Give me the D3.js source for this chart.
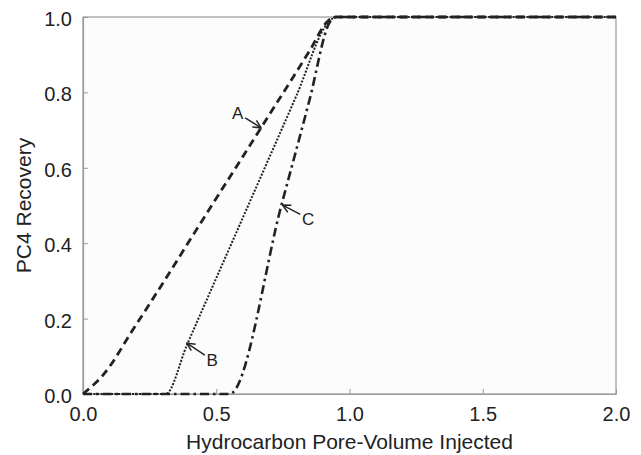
<!DOCTYPE html>
<html>
<head>
<meta charset="utf-8">
<script src="https://cdn.jsdelivr.net/npm/d3@7"></script>
<style>
    body { margin: 0; background: #fff; }
    text { font-family: "Liberation Sans", Arial, sans-serif; fill: #222; }
</style>
</head>
<body>
<div id="chart"></div>
<script>
const WIDTH = 641;
const HEIGHT = 455;
const MARGIN = { top: 17, right: 25, bottom: 61, left: 83 };

// curve A (dashed)
const curveA = [
    [0.0, 0.0], [0.026, 0.016], [0.064, 0.041], [0.1, 0.073], [0.176, 0.158],
    [0.259, 0.249], [0.45, 0.463], [0.668, 0.706], [0.85, 0.91],
    [0.92, 0.99], [0.95, 1.0], [2.0, 1.0]
];
// curve B (dotted)
const curveB = [
    [0.0, 0.0], [0.31, 0.0], [0.39, 0.13], [0.6, 0.468], [0.8, 0.79],
    [0.92, 0.985], [0.95, 1.0], [2.0, 1.0]
];
// curve C (dash-dot)
const curveC = [
    [0.0, 0.0], [0.55, 0.0], [0.746, 0.505], [0.85, 0.78],
    [0.925, 0.985], [0.95, 1.0], [2.0, 1.0]
];

const xTicks = [0, 0.5, 1.0, 1.5, 2.0];
const yTicks = [0, 0.2, 0.4, 0.6, 0.8, 1.0];

// label position, arrow tip (data units)
const labels = [
    { name: 'A', at: [0.58, 0.745], tip: [0.668, 0.706] },
    { name: 'B', at: [0.485, 0.09], tip: [0.39, 0.135] },
    { name: 'C', at: [0.845, 0.465], tip: [0.749, 0.501] }
];

const svg = d3.select('#chart').append('svg')
    .attr('width', WIDTH)
    .attr('height', HEIGHT);

const x = d3.scaleLinear().domain([0, 2]).range([MARGIN.left, WIDTH - MARGIN.right]);
const y = d3.scaleLinear().domain([0, 1]).range([HEIGHT - MARGIN.bottom, MARGIN.top]);

svg.append('rect')
    .attr('x', x(0))
    .attr('y', y(1))
    .attr('width', x(2) - x(0))
    .attr('height', y(0) - y(1))
    .attr('fill', '#fcfcfc')
    .attr('stroke', '#999')
    .attr('stroke-width', 1.2);

const xAxis = svg.append('g')
    .attr('transform', `translate(0, ${y(0)})`)
    .call(d3.axisBottom(x).tickValues(xTicks).tickSizeInner(-5).tickSizeOuter(0).tickPadding(8)
        .tickFormat(d3.format('.1f')));
const yAxis = svg.append('g')
    .attr('transform', `translate(${x(0)}, 0)`)
    .call(d3.axisLeft(y).tickValues(yTicks).tickSizeInner(-5).tickSizeOuter(0).tickPadding(10)
        .tickFormat(d3.format('.1f')));

[xAxis, yAxis].forEach(g => {
    g.select('.domain').attr('stroke', '#999').attr('stroke-width', 1.2);
    g.selectAll('.tick line').attr('stroke', '#999');
    g.selectAll('.tick text').attr('font-size', 20).attr('fill', '#222')
        .attr('font-family', '"Liberation Sans", Arial, sans-serif');
});
xAxis.selectAll('.tick text').attr('y', 27).attr('dy', 0);
yAxis.selectAll('.tick text').attr('x', -11).attr('dy', '0.42em');

const line = d3.line()
    .x(d => x(d[0]))
    .y(d => y(d[1]))
    .curve(d3.curveMonotoneX);

const drawCurve = (data, dash, width) => {
    svg.append('path')
        .attr('d', line(data))
        .attr('fill', 'none')
        .attr('stroke', '#222')
        .attr('stroke-width', width)
        .attr('stroke-dasharray', dash);
};
drawCurve(curveB, '2 1.5', 2);
drawCurve(curveC, '9 4 2.5 4', 2.6);
drawCurve(curveA, '8 5', 2.8);

svg.append('defs').append('marker')
    .attr('id', 'arrow')
    .attr('viewBox', '0 0 10 10')
    .attr('refX', 9)
    .attr('refY', 5)
    .attr('markerWidth', 7)
    .attr('markerHeight', 7)
    .attr('orient', 'auto')
    .append('path')
    .attr('d', 'M1,1 L9,5 L1,9')
    .attr('fill', 'none')
    .attr('stroke', '#222')
    .attr('stroke-width', 1.5);

labels.forEach(l => {
    const lx = x(l.at[0]);
    const ly = y(l.at[1]);
    const tx = x(l.tip[0]);
    const ty = y(l.tip[1]);
    const ang = Math.atan2(ty - ly, tx - lx);
    svg.append('line')
        .attr('x1', lx + Math.cos(ang) * 9)
        .attr('y1', ly + Math.sin(ang) * 9)
        .attr('x2', tx)
        .attr('y2', ty)
        .attr('stroke', '#222')
        .attr('stroke-width', 1.4)
        .attr('marker-end', 'url(#arrow)');
    svg.append('text')
        .attr('x', lx)
        .attr('y', ly)
        .attr('dy', '0.36em')
        .attr('text-anchor', 'middle')
        .attr('font-size', 17)
        .text(l.name);
});

svg.append('text')
    .attr('x', (x(0) + x(2)) / 2)
    .attr('y', 449)
    .attr('text-anchor', 'middle')
    .attr('font-size', 21)
    .text('Hydrocarbon Pore-Volume Injected');

svg.append('text')
    .attr('transform', `translate(31, ${(y(0) + y(1)) / 2}) rotate(-90)`)
    .attr('text-anchor', 'middle')
    .attr('font-size', 21)
    .text('PC4 Recovery');
</script>
</body>
</html>
